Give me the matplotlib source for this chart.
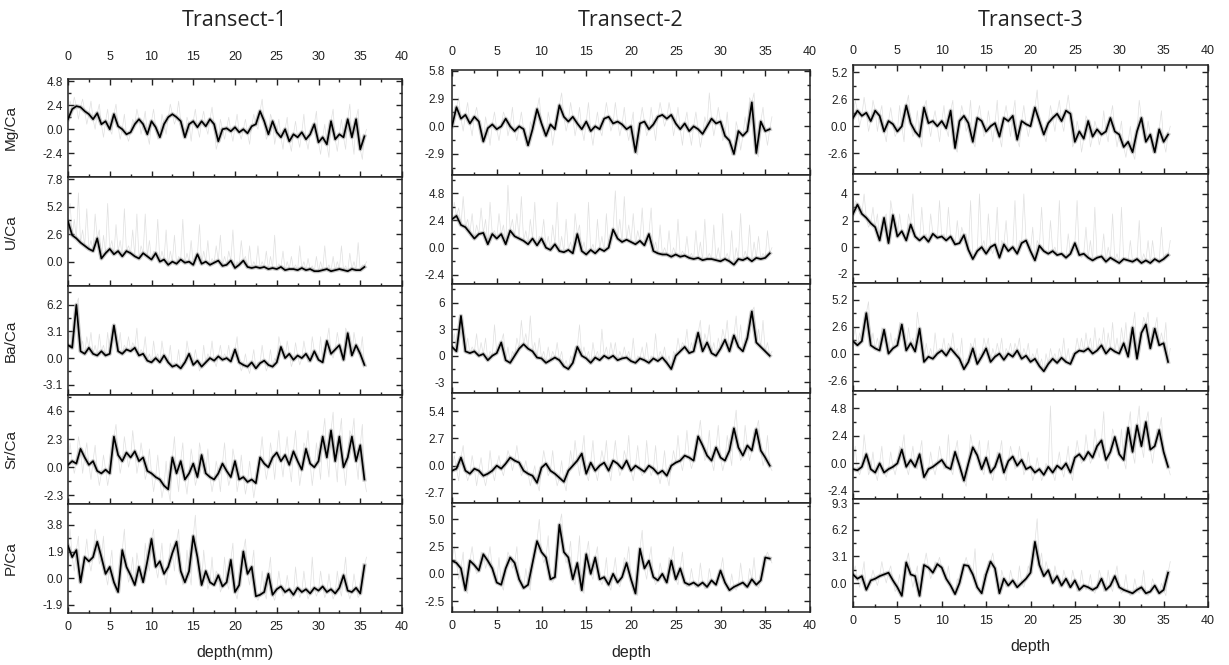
import matplotlib
matplotlib.use("Agg")
import matplotlib.pyplot as plt
import numpy as np
from matplotlib.ticker import MultipleLocator, AutoMinorLocator, FuncFormatter

plt.rcParams['font.family'] = ['Liberation Sans', 'DejaVu Sans']
plt.rcParams['axes.unicode_minus'] = False

W, H = 1229, 665
depth = np.arange(0, 36, 0.5)   # one reading every 0.5 mm

transects = ["Transect-1", "Transect-2", "Transect-3"]
elements = ["Mg/Ca", "U/Ca", "Ba/Ca", "Sr/Ca", "P/Ca"]
xlabels = ["depth(mm)", "depth", "depth"]

# ---- smoothed series (black), rows of 12 = 6 mm ----
mg1 = [1.0, 2.0, 2.3, 2.2, 1.8, 1.5, 1.0, 1.6, 0.5, 0.8, 0.0, 1.5,
       0.3, 0.0, -0.5, -0.3, 0.5, 1.0, 0.5, -0.5, 0.8, 0.2, -0.8, 0.5,
       1.2, 1.5, 1.2, 0.8, -0.8, 0.5, 0.8, 0.2, 0.8, 0.3, 1.0, 0.5,
       -1.2, 0.0, 0.1, -0.2, 0.2, -0.3, 0.0, -0.4, 0.3, 0.5, 1.8, 0.8,
       -0.5, 0.8, -0.3, -0.8, 0.0, -1.2, -0.5, -0.8, -0.3, -1.0, -0.5, 0.5,
       -1.3, -0.8, -1.5, 0.8, -1.0, -0.5, -0.8, 1.0, -0.8, 1.0, -2.0, -0.7]
u1 = [3.8, 2.5, 2.2, 1.8, 1.5, 1.2, 1.0, 2.2, 0.3, 0.8, 1.2, 0.7,
      1.0, 0.5, 1.0, 0.8, 0.5, 0.3, 0.8, 0.5, 0.2, 0.8, 0.0, 0.2,
      -0.3, 0.0, -0.2, 0.2, -0.1, 0.0, -0.3, 0.7, -0.2, 0.0, -0.3, -0.1,
      0.1, -0.4, -0.3, 0.1, -0.6, -0.3, 0.1, -0.5, -0.6, -0.5, -0.6, -0.5,
      -0.7, -0.6, -0.7, -0.5, -0.8, -0.7, -0.7, -0.8, -0.6, -0.8, -0.7, -0.9,
      -0.9, -0.8, -0.7, -0.9, -0.8, -0.7, -0.8, -0.9, -0.7, -0.8, -0.8, -0.5]
ba1 = [1.5, 1.2, 6.2, 0.8, 0.5, 1.2, 0.5, 0.3, 0.8, 0.3, 0.5, 3.8,
       0.8, 0.5, 1.0, 0.8, 1.2, 0.3, 0.5, -0.3, -0.5, 0.0, -0.5, 0.3,
       -0.5, -1.0, -0.8, -1.2, -0.5, 0.5, -0.8, -0.3, -1.0, -0.5, 0.0, -0.3,
       0.2, -0.2, 0.0, -0.4, 1.0, -0.5, -0.8, -1.0, -0.5, -1.2, -0.6, -0.3,
       -0.8, -1.0, -0.5, 1.3, 0.0, 0.5, -0.2, 0.3, 0.0, 0.5, -0.3, 0.8,
       -0.2, -0.5, 2.0, 0.5, 1.0, 1.5, -0.2, 2.9, 0.3, 1.5, 0.5, -0.8]
sr1 = [0.2, 0.5, 0.3, 1.5, 0.8, 0.2, 0.5, -0.3, -0.5, -0.2, -0.5, 2.5,
       1.0, 0.5, 1.2, 0.8, 1.3, 0.5, 0.8, -0.3, -0.5, -0.8, -1.0, -1.5,
       -1.8, 0.8, -0.5, 0.5, -1.0, -0.5, 0.3, -0.8, 1.0, -0.5, -0.8, -1.0,
       -0.5, 0.3, -0.3, -0.8, 0.5, -1.0, -0.8, -1.2, -1.0, -1.3, 0.8, 0.3,
       0.0, 0.8, 1.2, 0.5, 1.0, 0.2, 1.3, 0.5, -0.2, 1.5, 0.3, 0.0,
       0.5, 2.5, 0.8, 3.0, 0.5, 2.5, 0.0, 0.8, 2.5, 0.5, 1.8, -1.0]
p1 = [2.3, 1.5, 2.0, -0.3, 1.5, 1.2, 1.5, 2.6, 1.5, 0.3, 0.8, -0.3,
      -1.0, 2.0, 0.8, 0.2, -0.5, 0.8, -0.3, 1.2, 2.8, 0.8, 1.2, 0.3,
      0.8, 1.8, 2.6, 0.5, -0.3, 0.5, 3.0, 1.5, -0.5, 0.5, -0.3, -0.5,
      0.2, -0.6, -0.3, 1.3, -1.0, -0.5, 1.9, 0.3, 0.8, -1.3, -1.2, -1.0,
      0.3, -1.2, -0.8, -0.6, -1.0, -0.8, -1.2, -0.7, -1.0, -0.8, -1.1, -0.7,
      -0.9, -0.6, -1.0, -0.8, -1.1, -0.7, 0.2, -0.9, -1.0, -0.7, -1.1, 0.9]

mg2 = [0.0, 2.0, 0.8, 1.2, 0.3, 1.0, 0.5, -1.6, -0.2, 0.2, -0.3, 0.0,
       0.8, 0.0, -0.5, 0.0, -0.3, -2.0, -0.3, 1.8, 0.3, -1.0, 0.2, -0.3,
       2.2, 1.0, 0.5, 1.0, 0.3, -0.3, 0.5, -0.5, 0.0, -0.3, 0.8, 1.0,
       0.3, 0.5, 0.2, -0.3, 0.0, -2.7, 0.3, 0.5, -0.3, 0.2, 1.0, 1.2,
       0.8, 1.2, 0.3, -0.3, 0.3, -0.5, 0.0, -0.3, -0.8, 0.0, 0.8, 0.3,
       0.5, -1.0, -1.5, -2.9, -0.5, -1.0, -0.5, 2.5, -2.8, 0.5, -0.5, -0.3]
u2 = [2.5, 2.8, 2.0, 1.8, 1.3, 0.8, 1.2, 1.3, 0.3, 1.2, 0.8, 1.2,
      0.3, 1.5, 1.0, 0.8, 0.6, 0.3, 0.8, 0.2, 0.8, 0.0, -0.2, 0.3,
      -0.3, -0.4, -0.2, -0.5, 1.2, -0.3, -0.6, -0.2, -0.5, -0.1, -0.3, 0.0,
      1.6, 0.8, 0.5, 0.7, 0.5, 0.3, 0.6, 0.2, 1.2, -0.3, -0.5, -0.6,
      -0.6, -0.8, -0.6, -0.8, -0.7, -0.9, -1.0, -0.9, -1.1, -1.0, -1.0, -1.1,
      -1.2, -1.0, -1.2, -1.5, -1.0, -1.1, -0.9, -1.2, -0.9, -1.0, -0.9, -0.5]
ba2 = [1.0, 0.5, 4.5, 0.5, 0.3, 0.5, 0.0, 0.2, -0.5, 0.0, 0.3, 1.5,
       -0.5, -0.8, 0.0, 0.8, 1.3, 0.8, 0.5, -0.2, -0.3, -0.8, -0.5, -0.2,
       -0.5, -1.2, -1.5, -0.8, 1.0, 0.0, -0.3, -0.8, -0.2, -0.5, 0.0, -0.3,
       0.0, -0.5, -0.3, -0.2, -0.6, -0.8, -0.3, -0.5, -0.8, -0.3, -0.6, -0.2,
       -0.8, -1.5, 0.0, 0.5, 1.0, 0.3, 0.5, 2.6, 0.5, 1.5, 0.3, 0.0,
       0.8, 1.8, 0.5, 2.3, 1.0, 0.5, 2.0, 5.0, 1.5, 1.0, 0.5, 0.0]
sr2 = [-0.5, -0.3, 0.8, -0.5, -0.8, -0.3, -0.5, -1.0, -0.8, -0.5, 0.0, -0.3,
       0.2, 0.8, 0.5, 0.3, -0.5, -0.8, -1.0, -1.7, -0.2, 0.2, -0.5, -0.8,
       -1.2, -1.6, -0.5, 0.0, 0.5, 1.2, -0.8, 0.3, -0.5, 0.0, 0.3, -0.5,
       0.5, 0.2, -0.3, 0.5, -0.5, 0.0, -0.3, -0.6, 0.0, -0.3, -0.8, -0.5,
       -1.0, 0.0, 0.3, 0.5, 1.0, 0.8, 0.5, 2.9, 2.0, 1.0, 0.5, 1.8,
       0.8, 0.5, 1.5, 3.7, 1.8, 1.0, 2.0, 1.5, 3.6, 1.5, 0.8, 0.0]
p2 = [1.2, 1.0, 0.5, -1.5, 1.2, 0.8, 0.3, 1.8, 1.2, 0.5, -0.8, -1.0,
      0.5, 1.5, 1.0, -0.5, -1.3, -1.0, 1.0, 3.0, 2.0, 1.5, -0.5, -0.3,
      4.5, 2.0, 1.5, -0.5, 1.0, -1.5, 1.8, 0.0, 1.5, -0.5, -0.3, -1.0,
      0.0, -0.8, -0.3, 1.0, -0.5, -1.8, 2.3, 0.5, 1.2, -0.3, -0.6, 0.0,
      -0.8, 1.2, -0.5, 0.5, -0.8, -1.0, -0.8, -1.1, -0.8, -1.2, -0.6, -1.0,
      0.3, -0.8, -1.5, -1.2, -1.0, -0.8, -1.2, -0.5, -1.0, -0.6, 1.5, 1.4]

mg3 = [0.8, 1.5, 1.0, 1.3, 0.5, 1.5, 1.0, -0.5, 0.5, 0.2, -0.5, 0.0,
       2.0, 0.3, -0.5, -1.0, 1.8, 0.3, 0.5, 0.0, 0.5, -0.2, 1.5, -2.1,
       0.5, 1.0, 0.3, -1.5, 0.8, 0.5, -0.5, 0.0, 0.3, -1.0, 0.8, 0.5,
       1.0, -1.3, 0.5, 0.2, 0.0, 1.8, 0.5, -0.8, 0.3, 0.8, 1.2, 0.5,
       1.5, 1.2, -1.5, -0.5, -1.2, 0.5, -1.0, -0.3, -0.8, -0.5, 0.8, -0.5,
       -0.8, -2.0, -1.5, -2.5, -0.5, 0.8, -1.5, -0.8, -2.5, -0.3, -1.5, -0.8]
u3 = [2.5, 3.2, 2.5, 2.2, 1.8, 1.5, 0.5, 2.2, 0.3, 2.4, 0.8, 1.2,
      0.5, 1.7, 0.8, 0.5, 0.8, 0.4, 1.0, 0.7, 0.8, 0.5, 0.8, 0.2,
      0.3, 0.9, -0.2, -0.9, -0.3, 0.0, -0.5, 0.0, 0.2, -0.8, 0.2, -0.3,
      0.0, -0.5, 0.3, 0.5, -0.3, -1.0, 0.1, -0.3, -0.5, -0.3, -0.6, -0.5,
      -0.8, -0.5, 0.3, -0.6, -0.5, -0.8, -1.0, -0.8, -0.7, -1.1, -0.8, -1.0,
      -1.2, -0.9, -1.0, -1.1, -0.9, -1.2, -1.0, -1.2, -0.9, -1.1, -0.9, -0.6]
ba3 = [1.2, 0.8, 1.2, 3.9, 0.8, 0.5, 0.3, 2.3, 0.0, 0.5, 0.8, 2.8,
       0.3, 1.0, 0.2, 2.4, -0.8, -0.3, -0.5, 0.0, 0.3, -0.2, 0.5, 0.0,
       -0.5, -1.5, -0.8, 0.5, -1.0, -0.3, 0.5, -0.8, -0.3, 0.0, -0.6, 0.0,
       -0.3, 0.3, -0.5, -0.2, -0.8, -0.5, -1.2, -1.7, -1.0, -0.5, -0.9, -0.4,
       -0.8, -1.0, 0.0, 0.3, 0.2, 0.5, 0.0, 0.3, 0.8, 0.0, 0.5, 0.2,
       0.0, 1.0, -0.3, 2.5, -0.5, 2.0, 2.8, 0.5, 2.4, 0.8, 1.0, -0.8]
sr3 = [-0.5, -0.6, -0.3, 0.8, -0.5, -0.8, 0.0, -0.8, -0.5, -0.3, 0.0, 1.2,
       -0.3, 0.3, -0.3, 0.8, -1.2, -0.5, -0.3, 0.0, 0.3, -0.3, -0.5, 1.0,
       -0.2, -1.5, 0.0, 1.4, 0.7, -0.5, 0.5, -0.8, -0.3, 0.8, -0.8, 0.2,
       0.6, -0.2, 0.3, -0.5, -0.3, -0.8, -0.5, -1.0, -0.3, -0.8, -0.2, -0.5,
       0.0, -0.8, 0.5, 0.8, 0.3, 1.0, 0.5, 1.5, 2.0, 0.3, 1.0, 2.3,
       0.8, 0.3, 3.1, 1.0, 3.3, 1.5, 3.6, 1.2, 1.5, 2.9, 1.0, -0.3]
p3 = [1.0, 0.5, 0.8, -0.8, 0.3, 0.5, 0.8, 1.0, 1.2, 0.3, -0.5, -1.5,
      2.4, 1.0, 0.8, -1.5, 2.1, 1.8, 1.2, 2.2, 1.8, 0.5, -0.3, -1.3,
      0.0, 2.1, 2.0, 1.0, -0.5, -1.2, 1.0, 2.5, 1.7, -1.2, 0.5, -0.3,
      0.3, -0.5, 0.0, 0.5, 1.2, 4.8, 2.1, 0.8, 1.5, 0.0, 0.8, -0.3,
      0.5, -0.5, 0.3, -0.8, -0.3, -0.5, -0.8, -0.5, 0.5, -0.8, -0.3, 0.8,
      -0.5, -0.8, -1.0, -1.2, -0.8, -0.5, -1.2, -1.0, -0.3, -1.2, -0.8, 1.2]

# ---- raw readings (light grey), taken half way between the smoothed points ----
mg1_raw = [2.8, 3.2, 1.0, 3.0, 0.5, 2.8, 0.0, 2.5, -0.8, 2.0, -0.5, 2.5,
           -1.0, 1.5, -1.2, 1.0, 2.0, -0.5, 1.8, -1.5, 2.0, -1.0, 1.5, -0.5,
           2.5, 0.5, 2.8, -0.5, 1.2, -1.2, 2.0, -0.8, 1.8, -0.5, 2.2, -2.0,
           1.0, -1.0, 1.2, -1.2, 1.5, -1.0, 1.0, -1.5, 1.5, 0.0, 3.0, -1.0,
           1.5, -1.5, 1.0, -2.0, 1.2, -2.2, 0.8, -1.8, 1.5, -2.0, 0.5, 1.8,
           -2.5, 0.5, -2.8, 2.0, -2.2, 1.0, -2.0, 2.5, -2.5, 2.0, -3.0, 0.0]
u1_raw = [5.5, 4.0, 6.5, 3.0, 5.0, 2.0, 4.5, 3.0, 2.5, 5.5, 2.0, 3.5,
          2.0, 5.0, 1.5, 3.0, 4.5, 1.5, 4.5, 2.0, 1.0, 4.0, 1.0, 3.0,
          1.0, 2.5, 0.5, 4.0, 0.8, 2.0, 0.5, 3.5, 1.0, 2.0, 0.3, 1.5,
          2.5, 0.5, 1.0, 3.0, 0.0, 2.0, 0.5, 1.5, 0.0, 1.5, 0.0, 1.0,
          0.5, 2.5, -0.2, 1.0, 0.0, 0.5, -0.3, 1.5, 0.0, 0.3, -0.4, 0.5,
          0.0, 1.5, -0.3, 0.5, 0.0, 1.5, -0.4, 0.8, 0.0, 1.8, -0.3, 0.0]
ba1_raw = [3.0, 2.5, 7.0, 2.0, 2.5, 3.0, 1.5, 2.8, 1.5, 3.0, 2.0, 2.5,
           3.0, 1.5, 2.5, 1.8, 3.5, 1.0, 2.5, 0.5, 2.0, 0.5, 2.0, 0.0,
           1.5, -0.5, 1.0, -0.5, 2.0, 0.0, 1.0, -1.5, 1.5, 0.5, 2.0, -1.0,
           1.5, 0.5, 1.5, 0.0, 2.5, -1.5, 0.5, -1.8, 1.0, -0.5, 1.5, -1.5,
           1.0, 0.0, 2.5, 0.5, 2.0, -1.0, 1.8, -0.8, 2.0, -0.5, 2.5, 0.0,
           2.5, 1.0, 3.5, 0.0, 3.0, 1.0, 3.5, 0.5, 3.0, 0.5, 2.5, -1.0]
sr1_raw = [2.0, -0.5, 2.5, -0.5, 2.0, -1.0, 1.8, -1.5, 1.0, -1.5, 1.5, 3.5,
           -0.5, 2.5, 0.0, 3.0, -0.5, 2.0, -1.0, 1.5, -2.0, 1.0, -2.5, 0.5,
           -2.8, 2.5, -2.0, 2.0, -2.2, 1.5, -1.5, 2.0, -0.5, 1.5, -2.0, 0.5,
           -2.0, 2.0, -1.5, 1.5, -2.0, 1.0, -2.2, 0.5, -2.5, 0.0, 2.5, -1.0,
           2.0, -1.0, 3.0, -0.8, 2.5, -1.2, 3.0, -1.5, 2.0, 3.0, -1.5, 2.0,
           -1.0, 4.0, -0.8, 4.5, -1.2, 4.0, -1.5, 3.0, 4.0, -1.0, 3.5, -2.0]
p1_raw = [3.5, 0.5, 3.0, 0.5, 2.8, 0.5, 3.5, 1.0, 3.0, -0.5, 2.0, -1.0,
          1.0, 3.5, -0.3, 1.5, 1.8, -0.3, 2.5, 0.5, 3.5, 0.0, 2.5, -0.5,
          2.5, 0.5, 3.5, -0.5, 2.0, -0.5, 4.5, 0.0, 2.0, -0.8, 1.5, 0.5,
          -1.0, 1.5, -0.8, 2.5, -1.5, 1.0, 2.8, -0.5, 2.0, -1.6, 0.5, -1.5,
          1.5, -1.6, 0.5, -1.3, 0.2, -1.5, 0.8, -1.4, 0.5, -1.5, 1.5, -1.3,
          0.5, -1.4, 0.3, -1.5, 0.5, -1.3, 1.5, -1.5, 0.3, -1.4, 0.2, 1.5]

mg2_raw = [1.5, 3.0, -0.5, 2.5, -1.0, 2.0, -1.5, 1.0, -2.0, 1.5, -1.5, 1.5,
           -1.0, 2.0, -1.5, 1.5, -2.0, 0.5, 1.0, 3.0, -1.0, 1.5, -2.0, 1.5,
           3.5, -0.5, 2.5, -1.0, 2.0, -1.5, 2.5, -2.0, 1.5, -1.0, 2.5, -0.5,
           2.5, -1.0, 2.0, -1.5, 1.5, -3.0, 2.0, -1.0, 2.0, -1.5, 2.5, 0.0,
           2.5, -1.0, 2.0, -2.0, 1.5, -2.0, 1.5, -2.2, 1.0, 3.5, -1.0, 2.0,
           -1.5, 1.5, -3.0, 0.5, -2.5, 1.0, 3.0, 3.5, -3.2, 2.0, -2.0, 1.0]
u2_raw = [4.0, 3.5, 4.5, 2.5, 3.0, 2.0, 3.5, 2.5, 4.0, 1.5, 3.0, 2.0,
          5.5, 2.5, 3.0, 4.5, 1.5, 2.5, 4.0, 1.0, 2.5, 1.0, 2.0, 4.0,
          1.0, 2.5, 0.5, 3.0, 2.0, 0.5, 4.0, 0.3, 2.5, 1.0, 3.0, 0.5,
          5.0, 2.5, 4.5, 2.0, 3.0, 1.5, 3.5, 1.0, 3.5, 0.5, 2.0, 0.0,
          1.5, 0.0, 2.5, -0.3, 1.0, -0.5, 1.5, 0.5, 2.5, -0.5, 2.0, 0.0,
          3.0, -0.5, 1.5, 0.0, 3.0, -0.3, 2.0, 0.5, 1.0, -0.5, 1.5, 0.0]
ba2_raw = [2.5, 1.5, 3.0, 2.0, 1.0, 2.5, 1.5, 2.0, 0.5, 3.5, 1.0, 2.5,
           1.0, 0.5, 2.0, 4.0, 2.5, 4.5, 1.5, 2.0, 0.5, 1.0, 0.5, 1.5,
           0.5, -0.5, 0.0, 1.0, 3.5, 1.0, 0.5, 1.5, 0.5, 3.0, 1.0, 1.5,
           1.5, 0.5, 1.0, 0.5, 2.0, 0.0, 1.0, 1.5, 0.0, 2.5, 0.5, 1.0,
           0.0, 0.5, 2.0, 1.5, 3.0, 1.5, 2.5, 4.0, 2.5, 3.5, 1.5, 2.0,
           3.0, 4.0, 2.0, 4.5, 3.5, 2.0, 4.5, 5.5, 3.0, 4.0, 1.5, 0.5]
sr2_raw = [1.0, -1.5, 2.0, -1.5, 1.0, -2.0, 0.8, -2.0, 1.5, -1.5, 1.0, -1.0,
           1.5, -0.5, 2.0, -1.0, 0.5, -2.0, 0.0, -2.5, 1.5, -1.0, 1.5, -2.0,
           0.5, -2.5, 1.5, 2.5, -1.0, 3.0, -1.5, 2.5, -1.5, 1.5, 2.5, -1.5,
           2.5, -1.0, 1.5, 3.0, -1.5, 2.0, -1.0, 2.5, -1.0, 2.0, -1.8, 1.5,
           -2.0, 1.5, 3.0, -0.5, 3.5, -0.3, 2.5, 4.5, 0.5, 3.5, -0.5, 4.0,
           -0.5, 3.0, 0.0, 5.5, 0.5, 4.0, 0.5, 3.5, 4.5, 0.0, 3.0, -0.5]
p2_raw = [2.5, -0.5, 2.0, -1.8, 2.5, 0.0, 2.0, 0.5, 2.5, -0.5, 1.5, -1.5,
          2.0, 0.5, 2.5, -1.0, 0.5, -1.5, 2.5, 5.0, 1.0, 3.5, -0.8, 1.5,
          5.5, 1.0, 3.0, -1.0, 3.5, -1.8, 3.0, -0.5, 2.5, -1.0, 1.5, -1.5,
          1.5, -1.2, 1.5, 2.5, -1.0, -2.0, 4.0, -0.5, 2.5, -1.0, 1.0, -0.8,
          1.5, 2.5, -1.0, 2.0, -1.2, 0.5, -1.3, 1.0, -1.4, 0.5, -1.0, 0.0,
          1.5, -1.3, 0.0, -1.5, 1.0, -1.3, 0.5, 1.5, -1.3, 0.0, 2.0, 1.0]

mg3_raw = [2.5, 0.0, 2.8, -0.5, 2.5, -0.5, 2.0, -1.5, 1.8, -1.0, 2.0, -1.5,
           3.0, -1.0, 1.5, -2.0, 2.5, -1.0, 1.5, -1.5, 2.0, -1.0, 2.5, -2.5,
           2.0, -0.5, 2.5, -2.0, 2.0, -1.0, 1.5, -1.5, 2.5, -2.0, 2.0, -1.0,
           2.5, -2.0, 2.0, -1.0, 1.5, 3.5, -0.5, -1.5, 2.0, -0.5, 2.5, -0.5,
           3.0, -2.0, 0.5, -2.5, 1.0, -2.0, 0.5, -1.8, 1.5, -1.5, 2.0, -2.0,
           0.5, -3.0, 0.0, -3.2, 2.5, -1.0, 0.5, -2.5, -1.0, 1.5, -2.5, 0.0]
u3_raw = [3.5, 2.5, 4.0, 1.5, 3.0, 2.5, 1.5, 2.5, 3.5, 1.5, 2.5, 1.0,
          2.5, 4.0, 0.5, 3.0, 1.0, 2.5, 0.8, 3.5, 1.0, 3.0, 0.5, 2.0,
          1.5, 1.0, 3.5, -0.5, 4.0, 0.5, 2.5, -0.5, 3.0, 0.5, 2.0, 0.0,
          3.5, 0.5, 4.0, 0.0, 1.5, 0.5, 3.0, -0.5, 2.0, 0.0, 3.5, -0.5,
          1.0, 0.0, 3.5, -0.8, 1.5, 0.5, 3.0, -0.8, 1.0, 0.0, 2.5, -0.5,
          3.0, -0.8, 0.5, -1.0, 2.0, -0.5, 0.5, 0.5, -1.0, 1.5, -0.5, 0.5]
ba3_raw = [2.5, 2.0, 3.0, 5.0, 2.0, 1.5, 2.5, 1.5, 2.0, 1.5, 3.0, 1.5,
           2.5, 1.5, 4.0, 1.0, 1.0, 0.5, 2.0, 0.5, 1.5, 1.0, 2.0, 0.5,
           1.5, -0.5, 1.0, 1.5, 0.0, 1.5, 1.5, 0.5, 1.0, 1.5, 0.5, 1.0,
           1.0, 1.5, 0.5, 1.0, 0.0, 0.5, -0.5, 0.0, 0.5, 0.0, 0.5, 1.5,
           0.5, 0.0, 1.5, 1.5, 2.0, 1.5, 2.5, 1.5, 2.5, 2.0, 3.0, 1.5,
           2.5, 3.0, 2.0, 4.0, 1.5, 3.5, 4.0, 2.5, 3.5, 2.0, 3.0, 0.5]
sr3_raw = [1.5, -1.0, 2.5, -1.0, 1.0, -1.5, 1.5, -1.2, 1.0, -1.0, 1.5, 2.5,
           -1.0, 1.5, -0.5, 2.0, -1.5, 1.0, -1.0, 1.5, -0.5, 2.5, -1.0, 2.0,
           -1.0, -2.0, 2.5, 1.0, 2.0, -1.0, 2.0, -1.5, 1.0, 2.0, -1.5, 1.5,
           -0.5, 1.5, -1.0, 1.0, -1.5, 0.5, -1.5, 0.0, 5.0, -1.5, 1.0, -1.2,
           1.5, -1.5, 2.0, 0.0, 2.5, 0.0, 3.0, 0.5, 4.5, -0.5, 3.0, 1.0,
           3.0, -0.5, 4.5, 0.0, 5.0, 0.5, 4.5, 0.0, 3.0, 4.0, 0.0, -1.0]
p3_raw = [2.0, -0.5, 2.5, 0.0, 1.5, -0.3, 2.5, 0.0, 2.0, -1.0, 1.0, 0.0,
          3.5, -0.5, 2.0, 0.5, 3.5, 0.5, 2.5, 3.0, 1.0, 2.0, -1.0, 0.5,
          1.5, 3.0, 1.0, 4.0, -1.0, 1.0, 2.5, 3.5, 0.0, 1.5, -0.5, 1.5,
          -0.5, 2.0, -0.5, 2.0, 3.0, 7.5, 3.5, 2.5, 0.5, 2.0, -0.5, 1.5,
          -0.5, 1.5, -1.0, 1.5, -0.8, 1.0, -1.2, 1.5, -1.0, 1.5, -1.0, 2.0,
          -1.2, 1.0, -1.5, 0.5, -1.2, 1.5, -1.5, 0.5, -1.0, 0.0, -1.5, 2.5]

smooth = [[mg1, u1, ba1, sr1, p1], [mg2, u2, ba2, sr2, p2], [mg3, u3, ba3, sr3, p3]]
raw = [[mg1_raw, u1_raw, ba1_raw, sr1_raw, p1_raw],
       [mg2_raw, u2_raw, ba2_raw, sr2_raw, p2_raw],
       [mg3_raw, u3_raw, ba3_raw, sr3_raw, p3_raw]]

# axis settings per panel
ylims = [[(-4.75, 5.0), (-2.3, 8.0), (-4.3, 8.4), (-3.0, 5.9), (-2.5, 5.3)],
         [(-5.1, 5.9), (-3.2, 6.4), (-4.2, 8.1), (-3.7, 7.2), (-3.5, 6.5)],
         [(-4.6, 5.9), (-2.7, 5.5), (-3.6, 6.8), (-3.1, 6.3), (-2.8, 9.8)]]
ysteps = [[2.4, 2.6, 3.1, 2.3, 1.9],
          [2.9, 2.4, 3.0, 2.7, 2.5],
          [2.6, 2.0, 2.6, 2.4, 3.1]]
yfmts = [["%.1f"] * 5,
         ["%.1f", "%.1f", "%d", "%.1f", "%.1f"],
         ["%.1f", "%d", "%.1f", "%.1f", "%.1f"]]

# pixel layout of the three columns
cols = [(68, 402), (452, 810), (853, 1208)]
rows = [[79, 177, 286, 395, 504, 613],
        [70, 175, 284, 393, 503, 612],
        [65, 174, 283, 391, 499, 607]]
top_pad = [11.5, 8.5, 5.5]
ylab_pad = [3.5, 5, 4]

fig = plt.figure(figsize=(W / 100, H / 100), dpi=100)


def make_fmt(f):
    return FuncFormatter(lambda v, p: f % (round(v, 3) + 0.0))


for c in range(3):
    l, r = cols[c]
    for i in range(5):
        top, bot = rows[c][i], rows[c][i + 1]
        ax = fig.add_axes([l / W, 1 - bot / H, (r - l) / W, (bot - top) / H])
        ys = np.array(smooth[c][i])
        yr = np.array(raw[c][i])
        xx = np.empty(2 * len(depth))
        xx[0::2] = depth
        xx[1::2] = depth + 0.25
        yy = np.empty(2 * len(depth))
        yy[0::2] = ys
        yy[1::2] = yr
        ax.plot(xx, yy, color='#e0e0e0', lw=0.5, zorder=1)
        ax.plot(depth, ys, color='#8a8a8a', lw=3.0, alpha=0.45, zorder=2)
        ax.plot(depth, ys, color='black', lw=1.25, zorder=3)

        ax.set_xlim(0, 40)
        ax.set_ylim(*ylims[c][i])
        ax.xaxis.set_major_locator(MultipleLocator(5))
        ax.xaxis.set_minor_locator(AutoMinorLocator(2))
        ax.yaxis.set_major_locator(MultipleLocator(ysteps[c][i]))
        ax.yaxis.set_minor_locator(AutoMinorLocator(2))
        ax.yaxis.set_major_formatter(make_fmt(yfmts[c][i]))

        first, last = i == 0, i == 4
        ax.tick_params(which='both', direction='in', left=True, right=True,
                       bottom=True, top=first, labelleft=True,
                       labelbottom=last, labeltop=first, color='#222222',
                       width=1.0)
        ax.tick_params(which='major', length=4)
        ax.tick_params(which='minor', length=2)
        ax.tick_params(axis='y', labelsize=8.5, pad=ylab_pad[c], labelcolor='#222222')
        ax.tick_params(axis='x', labelsize=9, labelcolor='#222222')
        if first:
            ax.tick_params(axis='x', which='major', pad=top_pad[c])
        if last:
            ax.tick_params(axis='x', which='major', pad=6)
        for s in ax.spines.values():
            s.set_linewidth(1.1)
            s.set_color('#222222')

        if c == 0:
            ax.set_ylabel(elements[i], fontsize=11, color='#222222')
            ax.yaxis.set_label_coords(-0.15, 0.5)

    cx = (l + r) / 2 / W
    fig.text(cx, 1 - 20 / H, transects[c], ha='center', va='center',
             fontsize=15.5, family=['Open Sans', 'DejaVu Sans'], color='#222222')
    fig.text(cx, 1 - (rows[c][5] + 40) / H, xlabels[c], ha='center', va='center',
             fontsize=11.5, color='#222222')

fig.savefig("out.png", dpi=100)
